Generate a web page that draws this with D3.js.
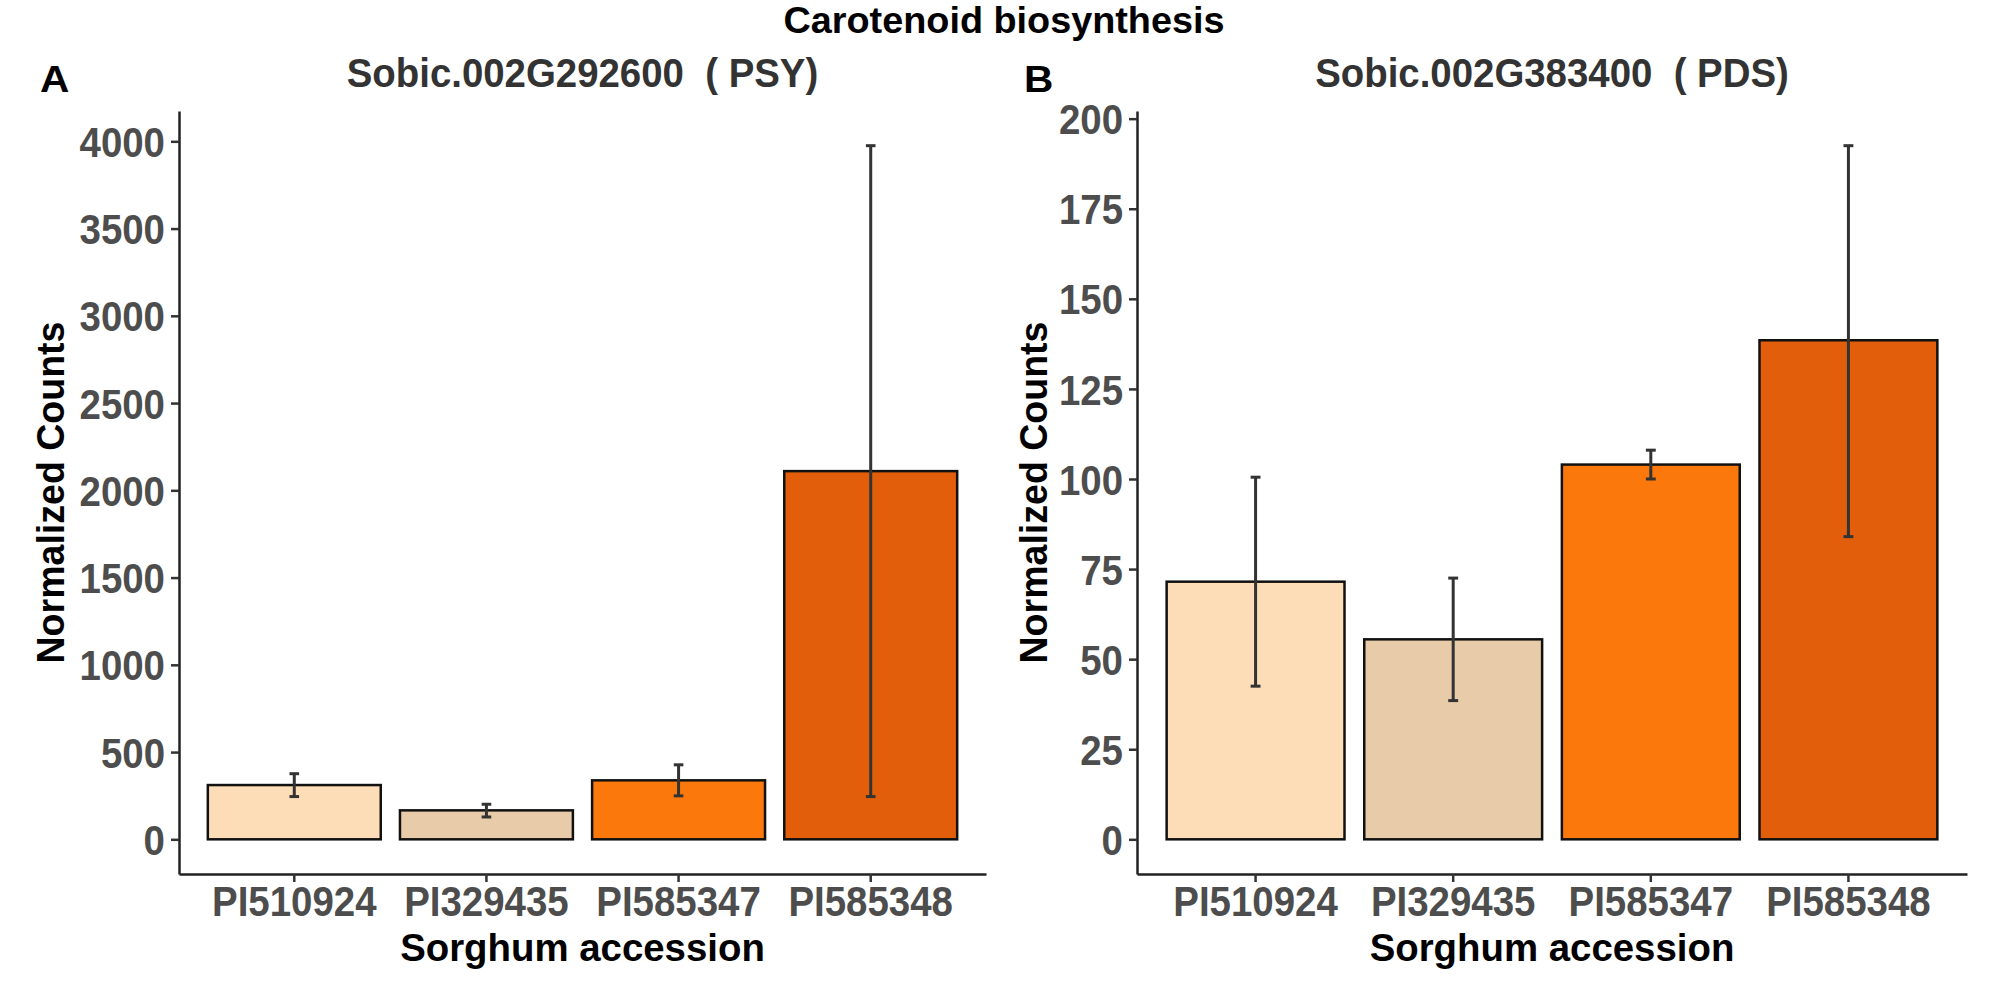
<!DOCTYPE html>
<html>
<head>
<meta charset="utf-8">
<script src="https://cdn.jsdelivr.net/npm/d3@7"></script>
<style>
  html, body { margin: 0; padding: 0; background: #fff; }
  svg { display: block; }
  text { font-family: "Liberation Sans", Arial, Helvetica, sans-serif; font-weight: bold; white-space: pre; }
</style>
</head>
<body>
<svg id="chart" width="2008" height="983"></svg>
<script>
// ---------------- data ----------------
const mainTitle = "Carotenoid biosynthesis";
const categories = ["PI510924", "PI329435", "PI585347", "PI585348"];
const barColors = ["#FDDDB7", "#E8CBA9", "#FB790C", "#E35E0B"];

const psyTitle = "Sobic.002G292600  ( PSY)";
const psyMean = [311, 166, 338, 2110];
const psyLow  = [245, 128, 249, 245];
const psyHigh = [376, 201, 427, 3975];
const psyTicks = [0, 500, 1000, 1500, 2000, 2500, 3000, 3500, 4000];

const pdsTitle = "Sobic.002G383400  ( PDS)";
const pdsMean = [71.5, 55.5, 104, 138.5];
const pdsLow  = [42.5, 38.5, 100, 84];
const pdsHigh = [100.5, 72.5, 108, 192.5];
const pdsTicks = [0, 25, 50, 75, 100, 125, 150, 175, 200];

const xTitle = "Sorghum accession";
const yTitle = "Normalized Counts";

// ---------------- layout ----------------
const svg = d3.select("#chart");
const FS = 40;            // panel title font size
const SX = 0.96;          // horizontal glyph scale for titles
const XFS = 38;           // x-axis title font size
const XSX = 1.01;
const TFS = 42;           // tick label font size
const TSX = 0.915;        // tick label horizontal scale
const panelTop = 111, panelBottom = 874;

svg.append("text")
  .attr("transform", `translate(1004,33) scale(1.05,1)`)
  .attr("text-anchor", "middle")
  .attr("font-size", 36)
  .attr("fill", "#000")
  .text(mainTitle);

function drawPanel(opts) {
  const { x0, x1, tag, tagX, title, mean, low, high, ticks, yTitleX } = opts;
  const g = svg.append("g");

  const lo = Math.min(0, d3.min(low));
  const hi = d3.max(high);
  const pad = (hi - lo) * 0.05;
  const y = d3.scaleLinear().domain([lo - pad, hi + pad]).range([panelBottom, panelTop]);
  const x = d3.scaleBand().domain(categories).range([x0, x1]).paddingInner(0.1).paddingOuter(0.15);

  // bars
  g.selectAll("rect.bar").data(categories).join("rect")
    .attr("class", "bar")
    .attr("x", d => x(d))
    .attr("width", x.bandwidth())
    .attr("y", (d, i) => y(mean[i]))
    .attr("height", (d, i) => y(0) - y(mean[i]))
    .attr("fill", (d, i) => barColors[i])
    .attr("stroke", "#111")
    .attr("stroke-width", 2.5);

  // error bars
  const capHalf = x.step() * 0.025;
  const eg = g.selectAll("g.err").data(categories).join("g").attr("class", "err")
    .attr("stroke", "#333").attr("stroke-width", 3).attr("fill", "none");
  eg.append("line")
    .attr("x1", d => x(d) + x.bandwidth() / 2).attr("x2", d => x(d) + x.bandwidth() / 2)
    .attr("y1", (d, i) => y(low[i])).attr("y2", (d, i) => y(high[i]));
  eg.append("line")
    .attr("x1", d => x(d) + x.bandwidth() / 2 - capHalf).attr("x2", d => x(d) + x.bandwidth() / 2 + capHalf)
    .attr("y1", (d, i) => y(low[i])).attr("y2", (d, i) => y(low[i]));
  eg.append("line")
    .attr("x1", d => x(d) + x.bandwidth() / 2 - capHalf).attr("x2", d => x(d) + x.bandwidth() / 2 + capHalf)
    .attr("y1", (d, i) => y(high[i])).attr("y2", (d, i) => y(high[i]));

  // y axis
  const ya = g.append("g").attr("transform", `translate(${x0},0)`)
    .call(d3.axisLeft(y).tickValues(ticks).tickFormat(d3.format("d"))
      .tickSize(8).tickSizeOuter(0).tickPadding(6));
  ya.attr("font-family", null).attr("font-size", null);
  ya.select(".domain").attr("stroke", "#222").attr("stroke-width", 2.5);
  ya.selectAll(".tick line").attr("stroke", "#333").attr("stroke-width", 2.5);
  ya.selectAll(".tick text")
    .attr("x", null).attr("dy", "0.36em")
    .attr("transform", `translate(-14,0) scale(${TSX},1)`)
    .attr("font-size", TFS).attr("fill", "#4D4D4D");

  // x axis
  const xa = g.append("g").attr("transform", `translate(0,${panelBottom})`)
    .call(d3.axisBottom(x).tickSize(8).tickSizeOuter(0).tickPadding(6));
  xa.attr("font-family", null).attr("font-size", null);
  xa.select(".domain").attr("stroke", "#222").attr("stroke-width", 2.5);
  xa.selectAll(".tick line").attr("stroke", "#333").attr("stroke-width", 2.5);
  xa.selectAll(".tick text")
    .attr("y", null).attr("dy", null)
    .attr("transform", `translate(0,42) scale(${TSX},1)`)
    .attr("font-size", TFS).attr("fill", "#4D4D4D");

  const cx = (x0 + x1) / 2;
  // panel title
  g.append("text")
    .attr("transform", `translate(${cx},87) scale(${SX},1)`)
    .attr("text-anchor", "middle").attr("font-size", FS).attr("fill", "#333")
    .text(title);
  // tag
  g.append("text")
    .attr("transform", `translate(${tagX},92) scale(1.13,1)`)
    .attr("font-size", 36).attr("fill", "#000")
    .text(tag);
  // x title
  g.append("text")
    .attr("transform", `translate(${cx},961) scale(${XSX},1)`)
    .attr("text-anchor", "middle").attr("font-size", XFS).attr("fill", "#000")
    .text(xTitle);
  // y title
  g.append("text")
    .attr("transform", `translate(${yTitleX},${(panelTop + panelBottom) / 2}) scale(${SX},1) rotate(-90)`)
    .attr("text-anchor", "middle").attr("font-size", FS).attr("fill", "#000")
    .attr("textLength", 342).attr("lengthAdjust", "spacingAndGlyphs")
    .text(yTitle);
}

drawPanel({ x0: 179, x1: 986, tag: "A", tagX: 40, title: psyTitle,
  mean: psyMean, low: psyLow, high: psyHigh, ticks: psyTicks, yTitleX: 64 });
drawPanel({ x0: 1137, x1: 1967, tag: "B", tagX: 1024, title: pdsTitle,
  mean: pdsMean, low: pdsLow, high: pdsHigh, ticks: pdsTicks, yTitleX: 1047 });
</script>
</body>
</html>
